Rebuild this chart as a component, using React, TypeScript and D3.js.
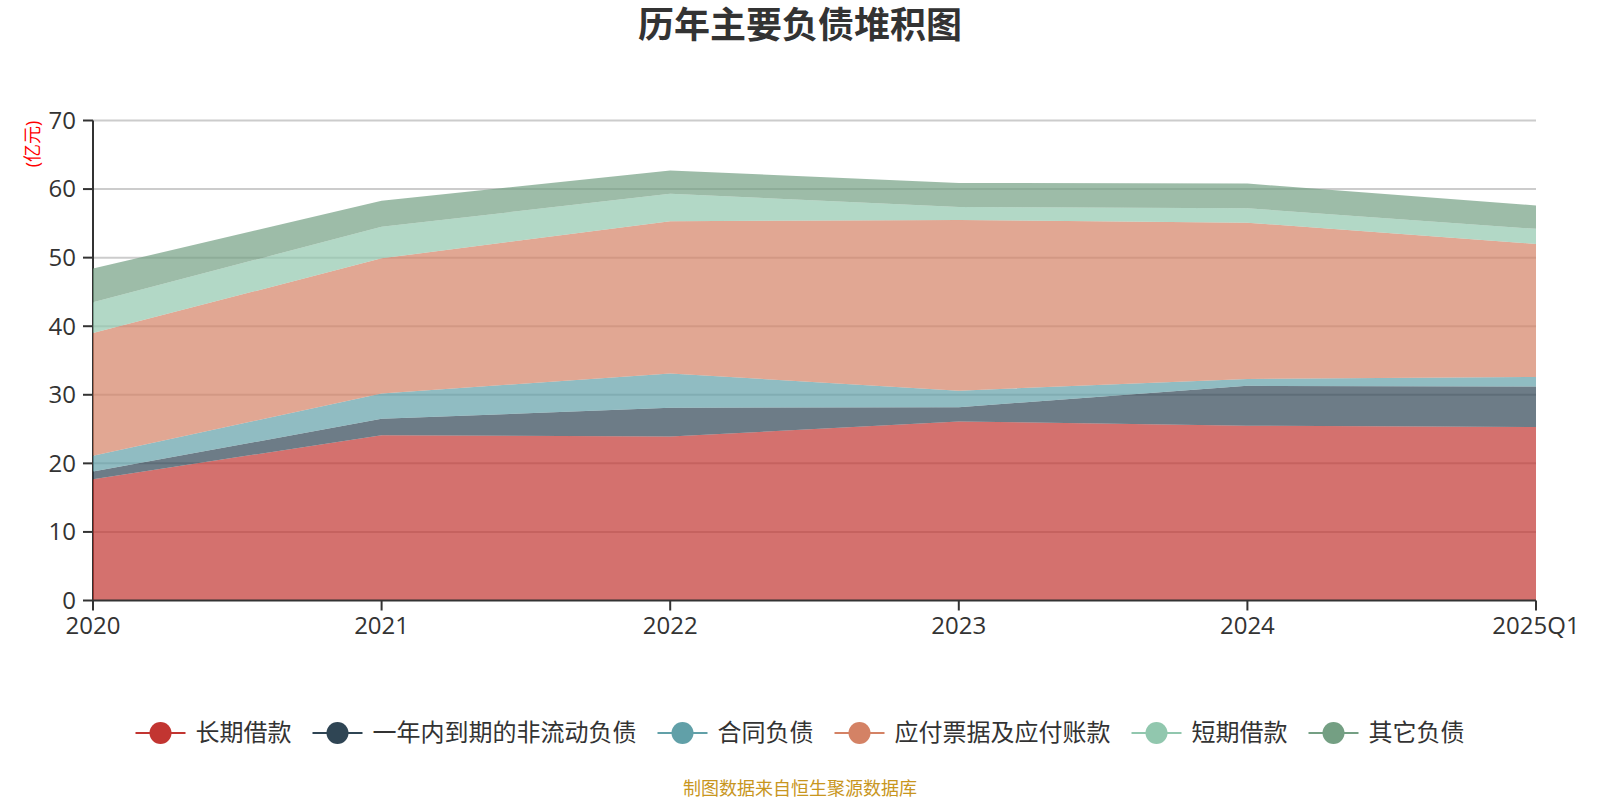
import React from "react";
import * as d3 from "d3";

const categories = ["2020", "2021", "2022", "2023", "2024", "2025Q1"];
const seriesNames = ["长期借款", "一年内到期的非流动负债", "合同负债", "应付票据及应付账款", "短期借款", "其它负债"];
const seriesColors = ["#c23531", "#2f4554", "#61a0a8", "#d48265", "#91c7ae", "#749f83"];
const longLoan = [17.7, 24.1, 23.9, 26.1, 25.5, 25.3];
const currentNonCurrent = [1.1, 2.4, 4.2, 2.1, 5.8, 5.9];
const contractLiab = [2.3, 3.7, 5.0, 2.4, 1.0, 1.4];
const payables = [17.9, 19.7, 22.2, 24.9, 22.8, 19.4];
const shortLoan = [4.5, 4.6, 4.0, 1.9, 2.1, 2.2];
const otherLiab = [4.9, 3.8, 3.4, 3.5, 3.6, 3.4];
const yTicks = [0, 10, 20, 30, 40, 50, 60, 70];

const W = 1600;
const H = 800;
const margin = { left: 93, right: 64, top: 120.5, bottom: 199.5 };
const FONT = "'Open Sans', 'Noto Sans CJK SC', sans-serif";

export default function App() {
  const allSeries = [longLoan, currentNonCurrent, contractLiab, payables, shortLoan, otherLiab];
  const rows = categories.map((c, i) => {
    const r: any = { cat: c };
    seriesNames.forEach((n, k) => (r[n] = allSeries[k][i]));
    return r;
  });
  const stacked = d3.stack().keys(seriesNames)(rows);

  const x = d3
    .scalePoint()
    .domain(categories)
    .range([margin.left, W - margin.right]);
  const y = d3
    .scaleLinear()
    .domain([0, 70])
    .range([H - margin.bottom, margin.top]);

  const area = d3
    .area<any>()
    .x((d) => x(d.data.cat) as number)
    .y0((d) => y(d[0]))
    .y1((d) => y(d[1]));

  // legend layout, centred
  const fs = 24;
  const iconW = 50;
  const itemGap = 21;
  const widths = seriesNames.map((n) => iconW + 10 + n.length * fs);
  const total = d3.sum(widths) + itemGap * (seriesNames.length - 1);
  let lx = W / 2 - total / 2;
  const legendItems = seriesNames.map((n, i) => {
    const item = { name: n, x: lx, color: seriesColors[i] };
    lx += widths[i] + itemGap;
    return item;
  });
  const legendY = 733;

  const x0 = margin.left;
  const x1 = W - margin.right;
  const yBase = y(0);

  return (
    <svg width={W} height={H} style={{ display: "block", position: "absolute", left: 0, top: 0 }} fontFamily={FONT}>
      <rect width={W} height={H} fill="#fff" />
      <text x={W / 2} y={38} textAnchor="middle" fontSize={36} fontWeight="bold" fill="#333">
        历年主要负债堆积图
      </text>

      {/* grid */}
      {yTicks.filter((t) => t > 0).map((t) => (
        <line key={t} x1={x0} x2={x1} y1={y(t)} y2={y(t)} stroke="#ccc" strokeWidth={2} />
      ))}

      {/* y axis */}
      <line x1={x0} x2={x0} y1={y(70)} y2={yBase} stroke="#333" strokeWidth={2} />
      {yTicks.map((t) => (
        <g key={t}>
          <line x1={x0 - 10} x2={x0} y1={y(t)} y2={y(t)} stroke="#333" strokeWidth={2} />
          <text x={x0 - 17} y={y(t)} dy="0.35em" textAnchor="end" fontSize={24} fill="#333">
            {t}
          </text>
        </g>
      ))}
      <text
        transform={`translate(33,${144}) rotate(-90)`}
        textAnchor="middle"
        dy="0.35em"
        fontSize={18}
        fill="#ff0000"
      >
        (亿元)
      </text>

      {/* areas */}
      {stacked.map((s, i) => (
        <path key={s.key} d={area(s as any) || ""} fill={seriesColors[i]} fillOpacity={0.7} />
      ))}

      {/* x axis */}
      <line x1={x0} x2={x1} y1={yBase} y2={yBase} stroke="#333" strokeWidth={2} />
      {categories.map((c) => (
        <g key={c}>
          <line x1={x(c)} x2={x(c)} y1={yBase} y2={yBase + 10} stroke="#333" strokeWidth={2} />
          <text x={x(c)} y={yBase + 33} textAnchor="middle" fontSize={24} fill="#333">
            {c}
          </text>
        </g>
      ))}

      {/* legend */}
      {legendItems.map((it) => (
        <g key={it.name}>
          <line x1={it.x} x2={it.x + iconW} y1={legendY} y2={legendY} stroke={it.color} strokeWidth={2} />
          <circle cx={it.x + iconW / 2} cy={legendY} r={11} fill={it.color} />
          <text x={it.x + iconW + 10} y={legendY} dy="0.35em" fontSize={fs} fill="#333">
            {it.name}
          </text>
        </g>
      ))}

      <text x={W / 2} y={789} dy="0.35em" textAnchor="middle" fontSize={18} fill="#c8961e">
        制图数据来自恒生聚源数据库
      </text>
    </svg>
  );
}
